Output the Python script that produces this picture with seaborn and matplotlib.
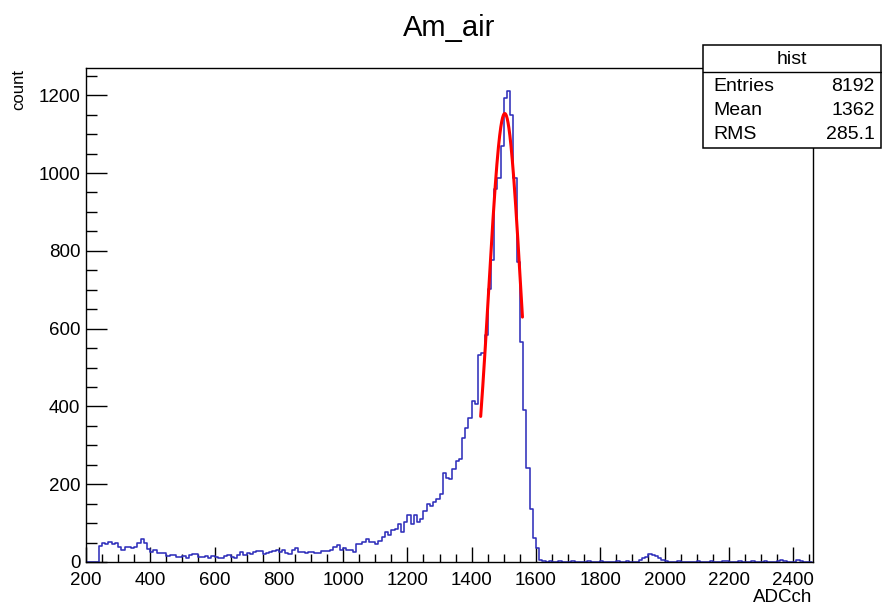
import numpy as np
import pandas as pd
import matplotlib
matplotlib.use("Agg")
import matplotlib.pyplot as plt
from matplotlib.ticker import MultipleLocator
from matplotlib.patches import Rectangle
from matplotlib.lines import Line2D
import seaborn as sns

# ---------------- data ----------------
title = "Am_air"
x_label = "ADCch"
y_label = "count"
bin_start = 200
bin_width = 10

counts_200_890 = [0, 0, 0, 0,
                  40, 48, 45, 52, 45, 50, 38, 32, 38, 39, 35, 38, 50, 58, 48, 33,
                  26, 30, 24, 22, 22, 16, 18, 18, 13, 14, 16, 9, 17, 20, 20, 12,
                  14, 16, 9, 16, 13, 9, 11, 16, 18, 14, 10, 18, 26, 18, 22, 20,
                  26, 28, 28, 20, 24, 26, 28, 30, 26, 30, 22, 20, 30, 35, 26, 26,
                  22, 26]
counts_900_1610 = [26, 22, 24, 27, 27, 27, 30, 39, 43, 30, 35, 32, 31, 26, 47, 47,
                   52, 60, 52, 52, 46, 54, 64, 77, 69, 81, 86, 98, 77, 103, 120, 98,
                   120, 103, 111, 132, 149, 145, 154, 162, 175, 230, 217, 213, 239, 260,
                   264, 320, 345, 371, 413, 405, 532, 537, 584, 703, 776, 958, 988, 1069,
                   1192, 1210, 1150, 988, 771, 566, 392, 242, 137, 61, 35, 4]
counts_1620_2450 = [2, 1, 2, 1, 0, 2, 1, 0, 1, 2, 0, 1, 1, 0, 2, 1, 0, 1, 2, 1,
                    0, 1, 1, 2, 0, 1, 2, 1, 1, 0, 6, 10, 14, 20, 18, 16, 10, 4, 2, 1,
                    0, 1, 2, 1, 0, 1, 1, 0, 2, 1, 0, 1, 2, 1, 0, 1, 3, 2, 1, 0,
                    1, 2, 1, 0, 1, 2, 1, 0, 1, 2, 1, 0, 1, 3, 4, 2, 1, 0, 1, 4,
                    2, 1, 0, 1]
counts = counts_200_890 + counts_900_1610 + counts_1620_2450

# Gaussian fit parameters
fit_amp = 1153
fit_mean = 1503
fit_sigma = 50
fit_lo, fit_hi = 1428, 1558

stats_title = "hist"
stats_names = ["Entries", "Mean", "RMS"]
stats_values = ["8192", "1362", "285.1"]

x_ticks = list(range(200, 2401, 200))
y_ticks = list(range(0, 1201, 200))

# ---------------- figure ----------------
W, H = 882, 607
sns.set_theme(style="white")
plt.rcParams['font.family'] = ['Liberation Sans', 'DejaVu Sans']
plt.rcParams['text.color'] = 'black'
plt.rcParams['axes.labelcolor'] = 'black'
plt.rcParams['xtick.color'] = 'black'
plt.rcParams['ytick.color'] = 'black'

fig = plt.figure(figsize=(W / 100, H / 100), dpi=100)
fig.patch.set_facecolor("white")
ax_l, ax_r, ax_t, ax_b = 86, 813, 68, 562
ax = fig.add_axes([ax_l / W, 1 - ax_b / H, (ax_r - ax_l) / W, (ax_b - ax_t) / H])

edges = [float(bin_start + bin_width * i) for i in range(len(counts) + 1)]
centers = [bin_start + bin_width * i + bin_width / 2 for i in range(len(counts))]
df = pd.DataFrame({"ADCch": centers, "count": [float(c) for c in counts]})
sns.histplot(data=df, x="ADCch", weights="count", bins=edges, element="step",
             fill=False, color="#2f2fbb", linewidth=1.15, ax=ax)

xs = np.linspace(fit_lo, fit_hi, 300)
ys = fit_amp * np.exp(-0.5 * ((xs - fit_mean) / fit_sigma) ** 2)
sns.lineplot(x=xs, y=ys, color="#ff0000", linewidth=2.2, ax=ax)

ax.set_xlim(200, 2462)
ax.set_ylim(0, 1270)
ax.set_xlabel("")
ax.set_ylabel("")
ax.set_xticks(x_ticks)
ax.set_yticks(y_ticks)
ax.xaxis.set_minor_locator(MultipleLocator(50))
ax.yaxis.set_minor_locator(MultipleLocator(50))
ax.tick_params(axis="both", which="both", direction="in", colors="black",
               labelsize=13.5, labelcolor="black",
               top=False, right=False, bottom=True, left=True)
ax.tick_params(axis="x", which="major", length=10.8, width=1, pad=7)
ax.tick_params(axis="x", which="minor", length=5.8, width=1)
ax.tick_params(axis="y", which="major", length=15, width=1, pad=4)
ax.tick_params(axis="y", which="minor", length=8, width=1)
for s in ax.spines.values():
    s.set_color("black")
    s.set_linewidth(1.0)
    s.set_visible(True)
ax.grid(False)

fig.text(449.5 / W, 1 - 28 / H, title, ha="center", va="center", fontsize=21, color="black")
fig.text(19 / W, 1 - 69 / H, y_label, ha="center", va="top", rotation=90, fontsize=12,
         color="black")
fig.text(812 / W, 1 - 598 / H, x_label, ha="right", va="center", fontsize=13.5, color="black")

# stats box
bx0, bx1, by0, by1, bsep = 703, 881, 45, 148, 72
fig.add_artist(Rectangle((bx0 / W, 1 - by1 / H), (bx1 - bx0) / W, (by1 - by0) / H,
                         transform=fig.transFigure, facecolor="white",
                         edgecolor="black", linewidth=1.1, zorder=5))
fig.add_artist(Line2D([bx0 / W, bx1 / W], [1 - bsep / H, 1 - bsep / H],
                      transform=fig.transFigure, color="black", linewidth=1.0, zorder=6))
fig.text((bx0 + bx1) / 2 / W, 1 - 59 / H, stats_title, ha="center", va="center",
         fontsize=14, zorder=7, color="black")
row_y = [86.5, 110.5, 134.5]
for name, val, ry in zip(stats_names, stats_values, row_y):
    fig.text(713 / W, 1 - ry / H, name, ha="left", va="center", fontsize=14, zorder=7,
             color="black")
    fig.text(875 / W, 1 - ry / H, val, ha="right", va="center", fontsize=14, zorder=7,
             color="black")

fig.savefig("out.png", dpi=100)
